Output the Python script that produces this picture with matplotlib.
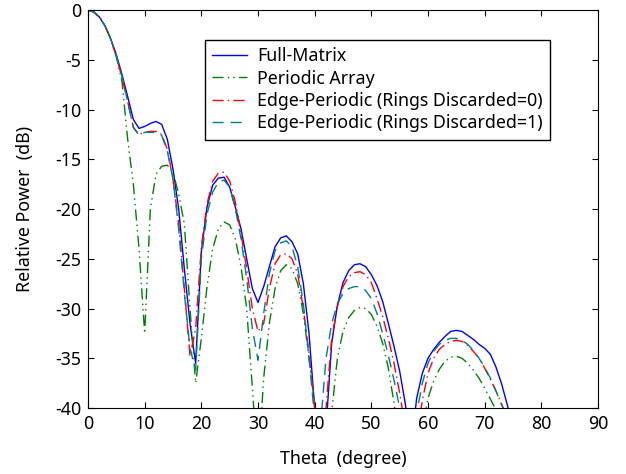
import numpy as np
import matplotlib
matplotlib.use('Agg')
import matplotlib.pyplot as plt

# theta in 1 degree steps, relative power in dB (values below -40 run off the axes)
theta = np.arange(0, 81)

full_matrix = [
    0, -0.2, -0.7, -1.6, -2.9, -4.5, -6.5, -8.7, -11.0, -11.9,
    -11.7, -11.4, -11.2, -11.5, -13.0, -16.0, -20.0, -26.0, -31.5, -35.5,
    -24.3, -19.8, -17.6, -16.9, -16.8, -17.8, -19.8, -22.0, -25.0, -28.0,
    -29.4, -27.8, -25.8, -23.8, -22.9, -22.7, -23.3, -24.5, -27.5, -32.5,
    -40.0, -45.0, -42.0, -33.5, -29.7, -27.4, -26.2, -25.6, -25.5, -25.8,
    -26.6, -27.7, -29.3, -31.5, -33.8, -36.3, -39.6, -44.0, -39.0, -36.5,
    -35.0, -34.1, -33.4, -32.8, -32.3, -32.2, -32.3, -32.7, -33.1, -33.6,
    -34.0, -34.6, -35.9, -37.6, -39.7, -42.0, -45.0, -48.0, -50.0, -50.0,
    -50.0,
]

periodic = [
    0, -0.2, -0.7, -1.6, -2.9, -4.7, -7.2, -13.0, -17.5, -24.0,
    -32.5, -20.0, -16.5, -15.7, -15.6, -16.3, -18.5, -21.5, -30.0, -37.5,
    -33.0, -27.8, -24.0, -22.0, -21.3, -21.6, -23.0, -25.8, -30.0, -38.0,
    -46.0, -37.0, -31.5, -28.0, -26.2, -25.6, -26.0, -27.5, -30.5, -35.0,
    -39.5, -45.0, -50.0, -40.5, -35.0, -32.3, -30.9, -30.2, -29.9, -30.0,
    -30.6, -31.8, -33.5, -36.0, -39.5, -44.0, -50.0, -50.0, -46.0, -42.0,
    -39.0, -37.3, -36.1, -35.3, -34.9, -34.8, -35.0, -35.5, -36.2, -37.0,
    -38.0, -39.1, -40.2, -43.0, -46.0, -50.0, -50.0, -50.0, -50.0, -50.0,
    -50.0,
]

edge_rings0 = [
    0, -0.2, -0.7, -1.6, -2.9, -4.7, -6.8, -9.2, -11.8, -12.5,
    -12.3, -12.2, -12.2, -12.5, -14.0, -17.0, -21.5, -28.0, -34.8, -32.0,
    -23.8, -19.5, -17.2, -16.4, -16.3, -17.2, -19.3, -22.5, -26.0, -30.0,
    -32.3, -31.5, -28.0, -25.5, -24.6, -24.5, -25.0, -26.5, -30.0, -34.5,
    -40.0, -47.0, -40.0, -33.0, -29.8, -27.8, -26.8, -26.4, -26.3, -26.6,
    -27.4, -29.0, -30.8, -33.0, -35.5, -38.5, -42.0, -47.0, -43.0, -39.2,
    -36.5, -35.0, -34.1, -33.6, -33.3, -33.2, -33.3, -33.7, -34.3, -35.0,
    -36.0, -37.1, -38.3, -39.6, -41.0, -44.0, -47.0, -50.0, -50.0, -50.0,
    -50.0,
]

edge_rings1 = [
    0, -0.2, -0.7, -1.6, -2.9, -4.6, -6.7, -9.2, -11.8, -12.6,
    -12.3, -12.3, -12.3, -12.6, -14.2, -17.0, -22.0, -28.5, -34.0, -36.2,
    -25.0, -20.5, -18.3, -17.3, -17.1, -17.8, -20.0, -23.0, -27.0, -32.0,
    -35.2, -30.5, -26.5, -24.2, -23.4, -23.2, -23.8, -25.8, -29.5, -35.0,
    -41.0, -42.0, -35.0, -31.5, -29.5, -28.5, -28.0, -27.8, -27.8, -28.2,
    -29.0, -30.5, -32.5, -34.7, -37.2, -40.0, -44.0, -47.0, -40.5, -37.5,
    -35.5, -34.3, -33.6, -33.2, -33.0, -33.0, -33.2, -33.6, -34.2, -35.0,
    -35.9, -37.0, -38.3, -39.7, -41.0, -44.0, -47.0, -50.0, -50.0, -50.0,
    -50.0,
]

plt.rcParams['font.family'] = ['Noto Sans', 'DejaVu Sans']
plt.rcParams['font.size'] = 12.8
plt.rcParams['axes.unicode_minus'] = False

fig = plt.figure(figsize=(6.26, 4.74), dpi=100)
ax = fig.add_axes([0.1406, 0.1392, 0.8147, 0.8397])

ax.plot(theta, full_matrix, color='#0000ff', linestyle='-', linewidth=1.0,
        label='Full-Matrix')
ax.plot(theta, periodic, color='#008000', linestyle=(0, (8, 3, 1, 3, 1, 3)),
        linewidth=1.0, label='Periodic Array')
ax.plot(theta, edge_rings0, color='#ff0000', linestyle=(0, (8, 3, 1, 3)),
        linewidth=1.0, label='Edge-Periodic (Rings Discarded=0)')
ax.plot(theta, edge_rings1, color='#008080', linestyle=(0, (8, 5)),
        linewidth=1.0, label='Edge-Periodic (Rings Discarded=1)')

ax.set_xlim(0, 90)
ax.set_ylim(-40, 0)
ax.set_xticks(np.arange(0, 91, 10))
ax.set_yticks(np.arange(-40, 1, 5))
ax.tick_params(direction='in', top=True, right=True, length=4, width=0.8,
               pad=5)
ax.set_xlabel('Theta  (degree)', labelpad=12)
ax.set_ylabel('Relative Power  (dB)', labelpad=15)

leg = ax.legend(loc='upper left', bbox_to_anchor=(0.2294, 0.9246),
                borderaxespad=0, fancybox=False, edgecolor='black',
                framealpha=1, handlelength=1.95, borderpad=0.4,
                labelspacing=0.25, handletextpad=0.6)
leg.get_frame().set_linewidth(1.0)

fig.savefig('out.png', dpi=100)
